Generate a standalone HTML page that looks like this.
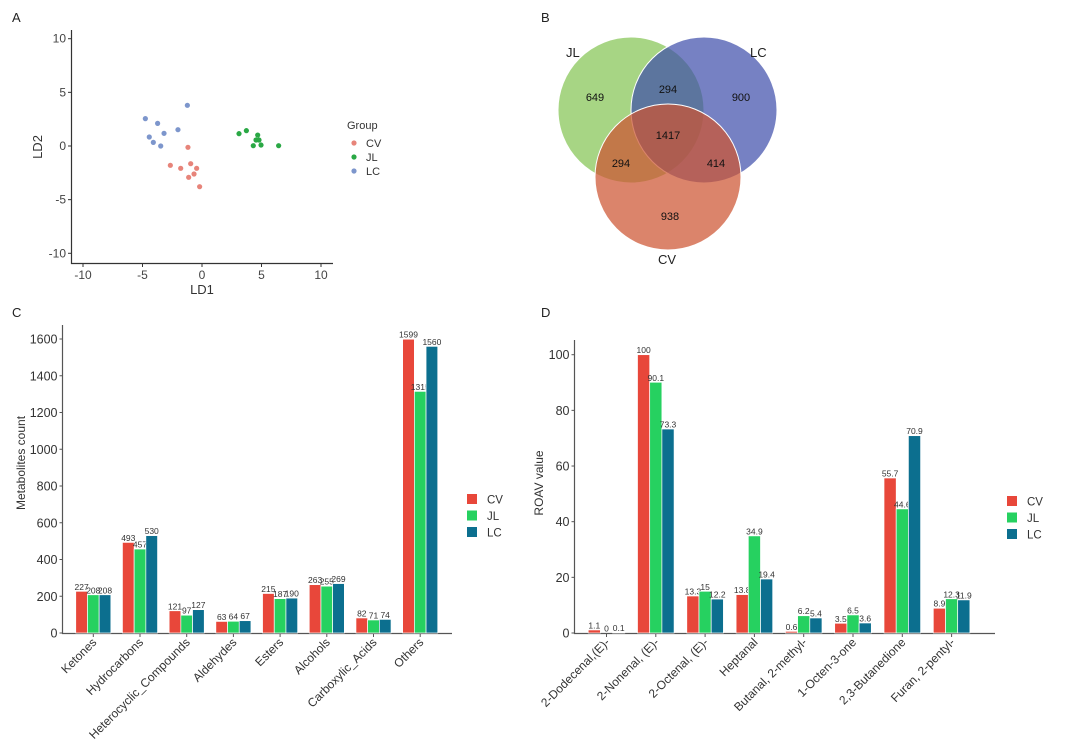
<!DOCTYPE html>
<html><head><meta charset="utf-8"><style>
html,body{margin:0;padding:0;background:#fff;}
svg{display:block;font-family:"Liberation Sans",Arial,sans-serif;}
</style></head><body>
<svg id="root" width="1080" height="751" viewBox="0 0 1080 751">
<g font-size="13" fill="#222">
<text x="12" y="22">A</text>
<text x="541" y="22">B</text>
<text x="12" y="317">C</text>
<text x="541" y="317">D</text>
</g>
<g id="pa"></g>
<g id="pb">
<circle cx="631" cy="110" r="73" fill="rgba(130,195,80,0.7)" stroke="#fff" stroke-width="1"/>
<circle cx="704" cy="110" r="73" fill="rgba(60,75,170,0.7)" stroke="#fff" stroke-width="1"/>
<circle cx="668" cy="177" r="73" fill="rgba(205,85,50,0.72)" stroke="#fff" stroke-width="1"/>
<g font-size="11" fill="#111" text-anchor="middle">
<text x="595" y="101">649</text>
<text x="668" y="93">294</text>
<text x="741" y="101">900</text>
<text x="668" y="139">1417</text>
<text x="621" y="167">294</text>
<text x="716" y="167">414</text>
<text x="670" y="220">938</text>
</g>
<g font-size="13" fill="#222">
<text x="566" y="57">JL</text>
<text x="750" y="57">LC</text>
<text x="658" y="264">CV</text>
</g>
</g>
<g id="pc"></g>
<g id="pd"></g>
</svg>
<script>
const NS="http://www.w3.org/2000/svg";
function mk(p,t,a){const e=document.createElementNS(NS,t);for(const k in a)e.setAttribute(k,a[k]);p.appendChild(e);return e;}

// ---- Panel A data ----
const cvLD1=[-1.18,-2.66,-1.79,-0.95,-0.45,-0.67,-1.12,-0.2];
const cvLD2=[-0.12,-1.8,-2.08,-1.65,-2.08,-2.61,-2.92,-3.79];
const jlLD1=[3.11,3.73,4.68,4.54,4.79,4.31,4.96,6.44];
const jlLD2=[1.15,1.43,1.02,0.56,0.56,0.03,0.09,0.03];
const lcLD1=[-4.76,-3.73,-2.02,-1.23,-4.43,-4.09,-3.19,-3.47];
const lcLD2=[2.55,2.11,1.52,3.79,0.84,0.34,1.18,0];
const aTicks=[-10,-5,0,5,10];

// ---- Panel C data ----
const cCats=["Ketones","Hydrocarbons","Heterocyclic_Compounds","Aldehydes","Esters","Alcohols","Carboxylic_Acids","Others"];
const cCV=[227,493,121,63,215,263,82,1599];
const cJL=[208,457,97,64,187,255,71,1315];
const cLC=[208,530,127,67,190,269,74,1560];
const cTicks=[0,200,400,600,800,1000,1200,1400,1600];

// ---- Panel D data ----
const dCats=["2-Dodecenal,(E)-","2-Nonenal, (E)-","2-Octenal, (E)-","Heptanal","Butanal, 2-methyl-","1-Octen-3-one","2,3-Butanedione","Furan, 2-pentyl-"];
const dCV=[1.1,100,13.3,13.8,0.6,3.5,55.7,8.9];
const dJL=[0,90.1,15,34.9,6.2,6.5,44.6,12.3];
const dLC=[0.1,73.3,12.2,19.4,5.4,3.6,70.9,11.9];
const dTicks=[0,20,40,60,80,100];

const colors={CV:"#e8473a",JL:"#26d160",LC:"#0c6f8f"};

// Panel A
(function(){
  const g=document.getElementById('pa');
  const X=v=>202+v*11.9, Y=v=>146-v*10.73;
  const ax=mk(g,'path',{d:'M71.5 30 V263.5 H333',stroke:'#333','stroke-width':1.2,fill:'none'});
  
  
  aTicks.forEach(t=>{
    mk(g,'line',{x1:X(t),x2:X(t),y1:263.5,y2:267,stroke:'#333'});
    const tx=mk(g,'text',{x:X(t),y:279,'font-size':12,'text-anchor':'middle',fill:'#444'});tx.textContent=t;
    
    
    mk(g,'line',{x1:68,x2:71.5,y1:Y(t),y2:Y(t),stroke:'#333'});
    const ty=mk(g,'text',{x:66,y:Y(t)+4,'font-size':12,'text-anchor':'end',fill:'#444'});ty.textContent=t;
    
    
  });
  const xt=mk(g,'text',{x:202,y:294,'font-size':13,'text-anchor':'middle',fill:'#333'});xt.textContent='LD1';
  
  
  const yt=mk(g,'text',{x:0,y:0,'font-size':13,'text-anchor':'middle',fill:'#333',transform:'translate(42,147) rotate(-90)'});yt.textContent='LD2';
  
  
  const sc=[[cvLD1,cvLD2,'#e7847a'],[jlLD1,jlLD2,'#2aa845'],[lcLD1,lcLD2,'#7d96cc']];
  sc.forEach(s=>s[0].forEach((v,i)=>{
    const c=mk(g,'circle',{cx:X(v),cy:Y(s[1][i]),r:2.6,fill:s[2]});
    
    
  }));
  const lt=mk(g,'text',{x:347,y:129,'font-size':11,fill:'#333'});lt.textContent='Group';
  
  
  [['CV','#e7847a'],['JL','#2aa845'],['LC','#7d96cc']].forEach((e,i)=>{
    const y=143+i*14;
    mk(g,'circle',{cx:354,cy:y,r:2.6,fill:e[1]});
    const t=mk(g,'text',{x:366,y:y+4,'font-size':11,fill:'#333'});t.textContent=e[0];
    
    
  });
})();

function barChart(gid,cats,series,ticks,o){
  const g=document.getElementById(gid);
  const Y=v=>o.y0-v*o.k;
  const ax=mk(g,'path',{d:`M${o.ax} ${o.top} V${o.y0+0.5} H${o.axEnd}`,stroke:'#555','stroke-width':1.2,fill:'none'});
  
  
  ticks.forEach(t=>{
    mk(g,'line',{x1:o.ax-3,x2:o.ax,y1:Y(t),y2:Y(t),stroke:'#555'});
    const ty=mk(g,'text',{x:o.ax-5,y:Y(t)+4.5,'font-size':12.5,'text-anchor':'end',fill:'#333'});ty.textContent=t;
    
    
  });
  const bw=o.bw;
  cats.forEach((c,i)=>{
    const cx=o.c1+i*o.sp;
    mk(g,'line',{x1:cx,x2:cx,y1:o.y0+0.5,y2:o.y0+4,stroke:'#555'});
    const lab=mk(g,'text',{x:0,y:0,'font-size':12,'text-anchor':'end',fill:'#333',transform:`translate(${cx+4},${o.y0+10}) rotate(-45)`});lab.textContent=c;
    
    
    series.forEach((s,j)=>{
      const x=cx-1.5*bw+j*bw, v=s[1][i];
      const r=mk(g,'rect',{x:x,y:Y(v),width:bw,height:v*o.k,fill:colors[s[0]],stroke:'#fff','stroke-width':0.7});
      
      
      const t=mk(g,'text',{x:x+bw/2,y:Y(v)-1.5,'font-size':8.5,'text-anchor':'middle',fill:'#333'});t.textContent=v;
      
      
    });
  });
  const yt=mk(g,'text',{x:0,y:0,'font-size':12,'text-anchor':'middle',fill:'#333',transform:`translate(${o.ytx},${o.yty}) rotate(-90)`});yt.textContent=o.ytitle;
  
  
  series.forEach((s,j)=>{
    const y=o.ly+j*16.5;
    const r=mk(g,'rect',{x:o.lx,y:y-5,width:10,height:10,fill:colors[s[0]]});
    
    
    const t=mk(g,'text',{x:o.lx+20,y:y+4.5,'font-size':11.5,fill:'#333'});t.textContent=s[0];
    
    
  });
}
barChart('pc',cCats,[['CV',cCV],['JL',cJL],['LC',cLC]],cTicks,
 {y0:633,k:0.18375,top:325,ax:62.5,axEnd:452,c1:93.3,sp:46.7,bw:11.7,ytx:25,yty:463,ytitle:'Metabolites count',lx:467,ly:499});
barChart('pd',dCats,[['CV',dCV],['JL',dJL],['LC',dLC]],dTicks,
 {y0:633,k:2.783,top:340,ax:574.5,axEnd:995,c1:606.5,sp:49.3,bw:12.2,ytx:543,yty:483,ytitle:'ROAV value',lx:1007,ly:501});
</script>
</body></html>
